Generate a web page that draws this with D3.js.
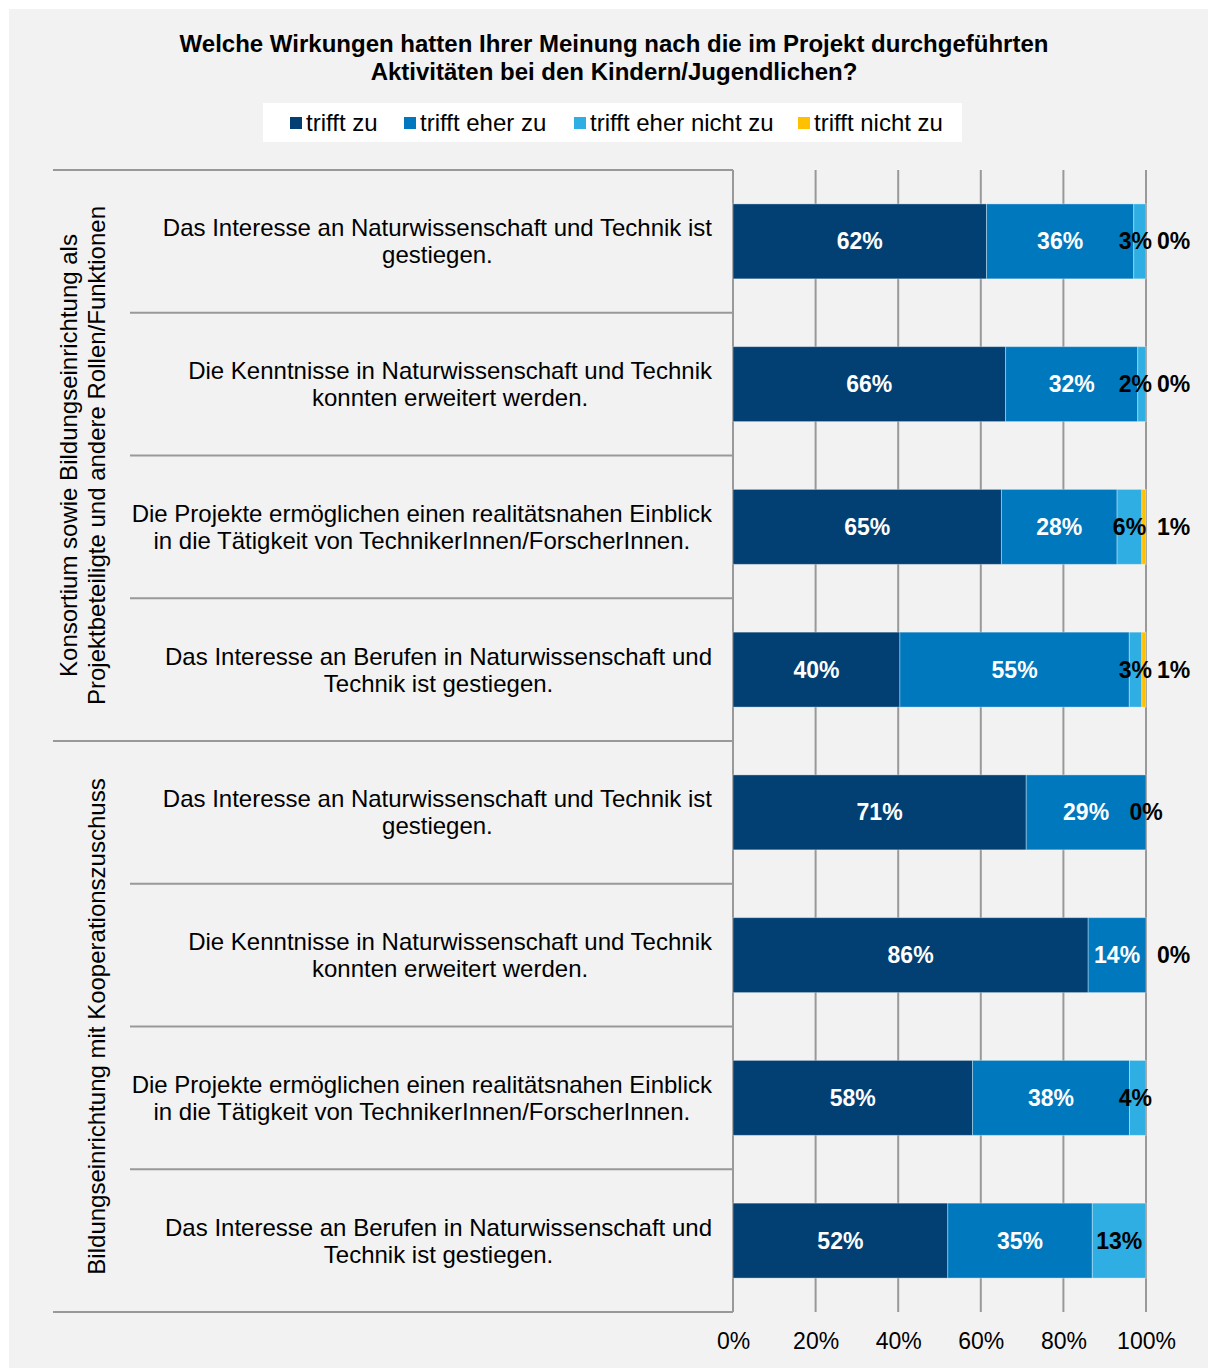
<!DOCTYPE html>
<html>
<head>
<meta charset="utf-8">
<script src="https://cdn.jsdelivr.net/npm/d3@7/dist/d3.min.js"></script>
<style>
  html, body { margin: 0; padding: 0; background: #ffffff; }
  svg { display: block; font-family: "Liberation Sans", Arial, sans-serif; }
</style>
</head>
<body>
<svg id="chart" width="1208" height="1368"></svg>
<script>
// Statements rated by respondents (line breaks as printed)
const categories = [
  "Das Interesse an Naturwissenschaft und Technik ist\ngestiegen.",
  "Die Kenntnisse in Naturwissenschaft und Technik\nkonnten erweitert werden.",
  "Die Projekte ermöglichen einen realitätsnahen Einblick\nin die Tätigkeit von TechnikerInnen/ForscherInnen.",
  "Das Interesse an Berufen in Naturwissenschaft und\nTechnik ist gestiegen.",
  "Das Interesse an Naturwissenschaft und Technik ist\ngestiegen.",
  "Die Kenntnisse in Naturwissenschaft und Technik\nkonnten erweitert werden.",
  "Die Projekte ermöglichen einen realitätsnahen Einblick\nin die Tätigkeit von TechnikerInnen/ForscherInnen.",
  "Das Interesse an Berufen in Naturwissenschaft und\nTechnik ist gestiegen."
];

// Respondent groups (outer category level) and how many statements each covers
const groupLabels = [
  ["Konsortium sowie Bildungseinrichtung als", "Projektbeteiligte und andere Rollen/Funktionen"],
  ["Bildungseinrichtung mit Kooperationszuschuss"]
];
const groupSizes = [4, 4];

// Answer scale
const seriesNames = ["trifft zu", "trifft eher zu", "trifft eher nicht zu", "trifft nicht zu"];
const seriesColors = ["#023f73", "#0078bd", "#2eaee3", "#ffc000"];

// Shares in percent (null = no answer in that class)
const trifftZu        = [62, 66, 65, 40, 71, 86, 58, 52];
const trifftEherZu    = [36, 32, 28, 55, 29, 14, 38, 35];
const trifftEherNicht = [3, 2, 6, 3, 0, null, 4, 13];
const trifftNicht     = [0, 0, 1, 1, null, 0, null, null];

const xTicks = [0, 0.2, 0.4, 0.6, 0.8, 1];
const titleLines = [
  "Welche Wirkungen hatten Ihrer Meinung nach die im Projekt durchgeführten",
  "Aktivitäten bei den Kindern/Jugendlichen?"
];

// ---------------------------------------------------------------------------
const seriesValues = [trifftZu, trifftEherZu, trifftEherNicht, trifftNicht];
const rows = categories.map((c, i) => {
  const r = { idx: i };
  seriesNames.forEach((s, k) => { r[s] = seriesValues[k][i]; });
  return r;
});

const svg = d3.select("#chart");
const W = 1208, H = 1368;
const FONT = 24;
const gridColor = "#999999";

svg.append("rect").attr("x", 9).attr("y", 9).attr("width", W - 9).attr("height", H - 9)
  .attr("fill", "#f2f2f2");

const plotTop = 170, plotBottom = 1312;
const x = d3.scaleLinear().domain([0, 1]).range([733, 1146]);
const y = d3.scaleBand().domain(d3.range(categories.length))
  .range([plotTop, plotBottom]).paddingInner(0.475).paddingOuter(0.2375);

// 100 % stacking of the answer classes
const stack = d3.stack().keys(seriesNames)
  .value((d, k) => d[k] == null ? 0 : d[k])
  .offset(d3.stackOffsetExpand);
const layers = stack(rows);

// Title
svg.append("g").selectAll("text").data(titleLines).join("text")
  .attr("x", 614).attr("y", (d, i) => 52 + i * 28)
  .attr("text-anchor", "middle").attr("font-weight", "bold")
  .attr("font-size", 24).attr("fill", "#000").text(d => d);

// Legend
const legend = svg.append("g");
legend.append("rect").attr("x", 263).attr("y", 103).attr("width", 699).attr("height", 39).attr("fill", "#ffffff");
const legendX = [290, 404, 574, 798];
const li = legend.selectAll("g.item").data(seriesNames).join("g").attr("class", "item")
  .attr("transform", (d, i) => `translate(${legendX[i]},0)`);
li.append("rect").attr("x", 0).attr("y", 117).attr("width", 12).attr("height", 12)
  .attr("fill", (d, i) => seriesColors[i]);
li.append("text").attr("x", 16).attr("y", 131).attr("font-size", FONT).attr("fill", "#000").text(d => d);

// Vertical gridlines
svg.append("g").selectAll("line").data(xTicks).join("line")
  .attr("x1", d => x(d)).attr("x2", d => x(d))
  .attr("y1", plotTop).attr("y2", plotBottom)
  .attr("stroke", gridColor).attr("stroke-width", 2);

// X axis tick labels
const xAxis = d3.axisBottom(x).tickValues(xTicks).tickFormat(d3.format(".0%")).tickSize(0).tickPadding(0);
const gx = svg.append("g").attr("transform", `translate(0,${plotBottom})`).call(xAxis);
gx.select(".domain").remove();
gx.selectAll("text").attr("font-size", 23).attr("font-family", null).attr("fill", "#000")
  .attr("dy", null).attr("y", 37);

// Horizontal separators of the category axis
const step = y.step();
const bounds = Array.from(d3.cumsum(groupSizes));
const sepData = d3.range(categories.length + 1).map(i => {
  const isGroupEdge = i === 0 || bounds.includes(i);
  return { yy: plotTop + i * step, x0: isGroupEdge ? 53 : 130 };
});
svg.append("g").selectAll("line").data(sepData).join("line")
  .attr("x1", d => d.x0).attr("x2", x(0))
  .attr("y1", d => d.yy).attr("y2", d => d.yy)
  .attr("stroke", gridColor).attr("stroke-width", 2);

// Bars
const barG = svg.append("g");
layers.forEach((layer, k) => {
  barG.append("g").selectAll("rect").data(layer).join("rect")
    .attr("x", d => x(d[0])).attr("width", d => Math.max(0, x(d[1]) - x(d[0])))
    .attr("y", (d, i) => y(i)).attr("height", y.bandwidth())
    .attr("fill", seriesColors[k])
    .attr("stroke", "rgba(255,255,255,0.35)").attr("stroke-width", 1);
});

// Value labels
const labG = svg.append("g").attr("font-weight", "bold").attr("font-size", 23);
layers.forEach((layer, k) => {
  const name = seriesNames[k];
  const items = layer.map((d, i) => ({ d, i, v: rows[i][name] })).filter(o => o.v != null);
  const txt = labG.append("g").selectAll("text").data(items).join("text")
    .attr("y", o => y(o.i) + y.bandwidth() / 2)
    .attr("dy", "0.35em")
    .attr("text-anchor", k === 3 ? "start" : "middle")
    .attr("fill", k < 2 ? "#ffffff" : "#000000")
    .text(o => o.v + "%");
  txt.each(function (o) {
    const w = this.getComputedTextLength();
    let px;
    if (k === 3) {
      px = x(1) + 11;                       // outside the bar end
    } else {
      px = (x(o.d[0]) + x(o.d[1])) / 2;
      // narrow end segments: keep the label close to the bar end
      if (k === 2 && x(o.d[1]) - x(o.d[0]) < w && o.d[1] - o.d[0] > 0) {
        px = Math.min(px, x(1) + 6 - w / 2);
      }
    }
    d3.select(this).attr("x", px);
  });
});

// Category labels: block right-aligned, lines centred within the block
const catG = svg.append("g").attr("font-size", FONT).attr("fill", "#000");
categories.forEach((c, i) => {
  const lines = c.split("\n");
  const cy = y(i) + y.bandwidth() / 2;
  const lh = 27;
  const t = catG.append("g");
  const texts = lines.map((ln, j) => t.append("text")
    .attr("y", cy + (j - (lines.length - 1) / 2) * lh)
    .attr("dy", "0.35em").text(ln));
  const widths = texts.map(tt => tt.node().getComputedTextLength());
  const bw = d3.max(widths);
  const cx = 712 - bw / 2;
  texts.forEach(tt => tt.attr("x", cx).attr("text-anchor", "middle"));
});

// Group labels (rotated)
const grpG = svg.append("g").attr("font-size", FONT).attr("fill", "#000");
let startIdx = 0;
groupLabels.forEach((lines, g) => {
  const y0 = plotTop + startIdx * step;
  const y1 = plotTop + (startIdx + groupSizes[g]) * step;
  const cy = (y0 + y1) / 2;
  lines.forEach((ln, j) => {
    const cx = 97 - (lines.length - 1 - j) * 28;
    grpG.append("text")
      .attr("transform", `translate(${cx},${cy}) rotate(-90)`)
      .attr("text-anchor", "middle").attr("dy", "0.35em").text(ln);
  });
  startIdx += groupSizes[g];
});
</script>
</body>
</html>
